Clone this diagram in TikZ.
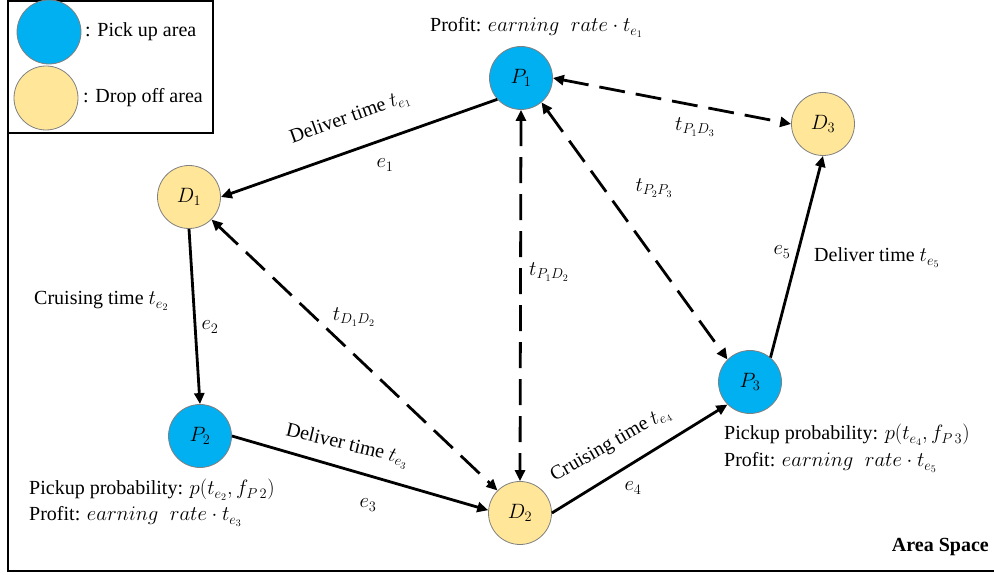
\documentclass[tikz,border=0pt]{standalone}
\usepackage{fontspec}
\setmainfont{Liberation Serif}
\usetikzlibrary{arrows.meta}
\definecolor{pickblue}{HTML}{00B0F0}
\definecolor{dropyel}{HTML}{FFE699}
\begin{document}
\begin{tikzpicture}[x=1pt,y=1pt,
  circ/.style={circle, draw=black!50, line width=0.8pt, minimum size=63pt, inner sep=0pt, font=\fontsize{21}{24}\selectfont},
  pick/.style={circ, fill=pickblue},
  drop/.style={circ, fill=dropyel},
  lbl/.style={font=\fontsize{20}{24}\selectfont, inner sep=1pt},
  solidarr/.style={line width=2.8pt, -{Triangle[length=11pt,width=10pt]}},
  dasharr/.style={line width=2.8pt, dash pattern=on 26pt off 11pt, {Triangle[length=11pt,width=10pt]}-{Triangle[length=11pt,width=10pt]}},
  frame/.style={line width=1.8pt}
]
\useasboundingbox (0,0) rectangle (994,575);
% legend and frame
\draw[frame] (8,574) rectangle (213,442);
\draw[frame] (8,442) -- (8,4) -- (994,4);
\node[pick, minimum size=64pt] (LP) at (49,543) {};
\node[drop, minimum size=64pt] (LD) at (46,477) {};
\node[lbl, anchor=base west] (LPt) at (84,538) {: Pick up area};
\node[lbl, anchor=base west] (LDt) at (82,472) {: Drop off area};
% nodes
\node[pick] (P1) at (521,497) {$P_1$};
\node[drop] (D1) at (189,378) {$D_1$};
\node[pick] (P2) at (200,139) {$P_2$};
\node[drop] (D2) at (520,62) {$D_2$};
\node[pick] (P3) at (750,193) {$P_3$};
\node[drop] (D3) at (823,451) {$D_3$};
% edges
\draw[solidarr] (P1.222) -- (D1.east);
\draw[solidarr] (D1.south) -- (P2.north);
\draw[solidarr] (P2.east) -- (D2.175);
\draw[solidarr] (D2.east) -- (P3.225);
\draw[solidarr] (P3.50) -- (D3.south);
\draw[dasharr] (P1.east) -- (D3.west);
\draw[dasharr] (P1.-50) -- (P3.135);
\draw[dasharr] (P1.south) -- (D2.north);
\draw[dasharr] (D1.-45) -- (D2.135);
% edge labels
\node[lbl, rotate=19.6] (l1) at (350,457) {Deliver time $t_{e_1}$};
\node[lbl] (e1) at (385,410) {$e_1$};
\node[lbl, anchor=base west] (l2) at (33,270) {Cruising time $t_{e_2}$};
\node[lbl] (e2) at (210,248) {$e_2$};
\node[lbl, rotate=-13.5] (l3) at (347,129) {Deliver time $t_{e_3}$};
\node[lbl] (e3) at (368,70) {$e_3$};
\node[lbl, rotate=29.7] (l4) at (611,130) {Cruising time $t_{e_4}$};
\node[lbl] (e4) at (633,87) {$e_4$};
\node[lbl] (e5) at (782,323) {$e_5$};
\node[lbl, anchor=base west] (l5) at (813,313) {Deliver time $t_{e_5}$};
\node[lbl] (tPD3) at (695,448) {$t_{P_1D_3}$};
\node[lbl] (tPP) at (654,387) {$t_{P_2P_3}$};
\node[lbl] (tPD2) at (549,303) {$t_{P_1D_2}$};
\node[lbl] (tDD) at (354,258) {$t_{D_1D_2}$};
% node annotations
\node[lbl, anchor=base west] (pr1) at (429,543) {Profit: $earning\;\;rate\cdot t_{e_1}$};
\node[lbl, anchor=base west] (pp2) at (28,80) {Pickup probability: $p(t_{e_2}, f_{P\,2})$};
\node[lbl, anchor=base west] (pr2) at (28,54) {Profit: $earning\;\;rate\cdot t_{e_3}$};
\node[lbl, anchor=base west] (pp3) at (723,135) {Pickup probability: $p(t_{e_4}, f_{P\,3})$};
\node[lbl, anchor=base west] (pr3) at (723,108) {Profit: $earning\;\;rate\cdot t_{e_5}$};
\node[lbl, anchor=base east] (area) at (990,23) {\textbf{Area Space}};
\end{tikzpicture}
\end{document}
